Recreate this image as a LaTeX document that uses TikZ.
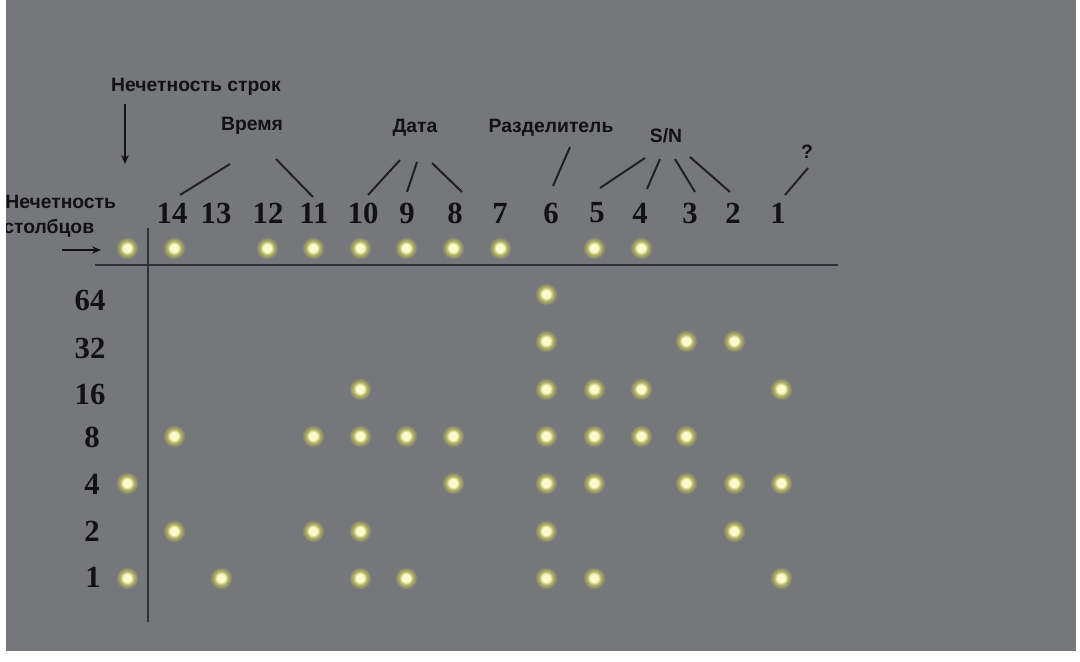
\documentclass[tikz,border=0pt]{standalone}
\usepackage{fontspec}
\setmainfont{Liberation Serif}
\newfontfamily\labfont{Liberation Sans}
\usetikzlibrary{arrows.meta}
\definecolor{bg}{RGB}{118,119,123}
\definecolor{dcore}{RGB}{250,250,205}
\definecolor{dhalo}{RGB}{180,180,95}
\definecolor{ink}{RGB}{18,18,20}
\definecolor{rulec}{RGB}{48,50,58}
\pgfdeclareradialshading{ledglow}{\pgfpoint{0bp}{0bp}}{color(0bp)=(dcore); color(5bp)=(dcore); color(8.5bp)=(dhalo); color(14bp)=(bg); color(50bp)=(bg)}
\tikzset{
  num/.style={font=\fontsize{17.5}{17.5}\selectfont\bfseries, text=ink, inner sep=0pt},
  lab/.style={font=\labfont\fontsize{11}{11}\selectfont\bfseries, text=ink, inner sep=0pt},
  lead/.style={draw=ink!85!bg, line width=0.04cm},
  arr/.style={draw=ink, line width=0.04cm, -{Stealth[length=0.18cm,width=0.15cm]}},
  gridline/.style={draw=rulec, line width=0.04cm},
  led/.style={shading=ledglow}
}
\begin{document}
\begin{tikzpicture}[x=0.02cm,y=-0.02cm]
\useasboundingbox (0,0) rectangle (1080,662);
\fill[white] (0,0) rectangle (1080,662);
\fill[bg] (6,0) rectangle (1076,651);

% LEDs
\foreach \x/\y in {127/248,174/248,267/248,313/248,360/248,406/248,453/248,500/248,594/248,641/248,
  546/294,
  546/341,686/341,734/341,
  360/389,546/389,594/389,641/389,781/389,
  174/436,313/436,360/436,406/436,453/436,546/436,594/436,641/436,686/436,
  127/483,453/483,546/483,594/483,686/483,734/483,781/483,
  174/531,313/531,360/531,546/531,734/531,
  127/578,221/578,360/578,406/578,546/578,594/578,781/578}
  \shade[led] (\x,\y) circle[radius=0.4cm];

% grid lines
\coordinate (hl) at (95,265);
\coordinate (hr) at (838,265);
\coordinate (vt) at (148,228);
\coordinate (vb) at (148,622);
\draw[gridline] (hl) -- (hr);
\draw[gridline] (vt) -- (vb);

% column numbers
\node[num] (c14) at (172,213) {14};
\node[num] (c13) at (216,213) {13};
\node[num] (c12) at (268,213) {12};
\node[num] (c11) at (314,213) {11};
\node[num] (c10) at (363,213) {10};
\node[num] (c9) at (407,213) {9};
\node[num] (c8) at (455,213) {8};
\node[num] (c7) at (500,213) {7};
\node[num] (c6) at (551,213) {6};
\node[num] (c5) at (597,213) {5};
\node[num] (c4) at (640,213) {4};
\node[num] (c3) at (690,213) {3};
\node[num] (c2) at (733,213) {2};
\node[num] (c1) at (778,213) {1};

% row numbers
\node[num] (r64) at (90,300) {64};
\node[num] (r32) at (90,348) {32};
\node[num] (r16) at (90,394) {16};
\node[num] (r8) at (92,437) {8};
\node[num] (r4) at (92,484) {4};
\node[num] (r2) at (92,531) {2};
\node[num] (r1) at (93,577) {1};

% labels
\node[lab] (strok) at (196,87) {Нечетность строк};
\node[lab, anchor=west] (stolb1) at (5,202) {Нечетность};
\node[lab, anchor=west] (stolb2) at (3,228) {столбцов};
\node[lab] (vremya) at (252,126) {Время};
\node[lab] (data) at (415,128) {Дата};
\node[lab] (razd) at (551,128) {Разделитель};
\node[lab] (sn) at (666,136) {S/N};
\node[lab] (q) at (807,152) {?};
\fill[white] (0,0) rectangle (6,662);

% arrows
\coordinate (sa1) at (125,104);
\coordinate (sa2) at (125,164);
\draw[arr] (sa1) -- (sa2);
\coordinate (ca1) at (62,250);
\coordinate (ca2) at (101,250);
\draw[arr] (ca1) -- (ca2);

% leader lines
\coordinate (v1a) at (230,164); \coordinate (v1b) at (180,195);
\coordinate (v2a) at (276,159); \coordinate (v2b) at (313,197);
\draw[lead] (v1a) -- (v1b);
\draw[lead] (v2a) -- (v2b);
\coordinate (d1a) at (400,160); \coordinate (d1b) at (368,195);
\coordinate (d2a) at (417,162); \coordinate (d2b) at (407,192);
\coordinate (d3a) at (432,163); \coordinate (d3b) at (462,192);
\draw[lead] (d1a) -- (d1b);
\draw[lead] (d2a) -- (d2b);
\draw[lead] (d3a) -- (d3b);
\coordinate (p1a) at (570,147); \coordinate (p1b) at (553,186);
\draw[lead] (p1a) -- (p1b);
\coordinate (s1a) at (645,158); \coordinate (s1b) at (600,188);
\coordinate (s2a) at (660,159); \coordinate (s2b) at (647,189);
\coordinate (s3a) at (675,159); \coordinate (s3b) at (695,192);
\coordinate (s4a) at (690,157); \coordinate (s4b) at (730,192);
\draw[lead] (s1a) -- (s1b);
\draw[lead] (s2a) -- (s2b);
\draw[lead] (s3a) -- (s3b);
\draw[lead] (s4a) -- (s4b);
\coordinate (q1a) at (808,168); \coordinate (q1b) at (785,195);
\draw[lead] (q1a) -- (q1b);
\end{tikzpicture}
\end{document}
